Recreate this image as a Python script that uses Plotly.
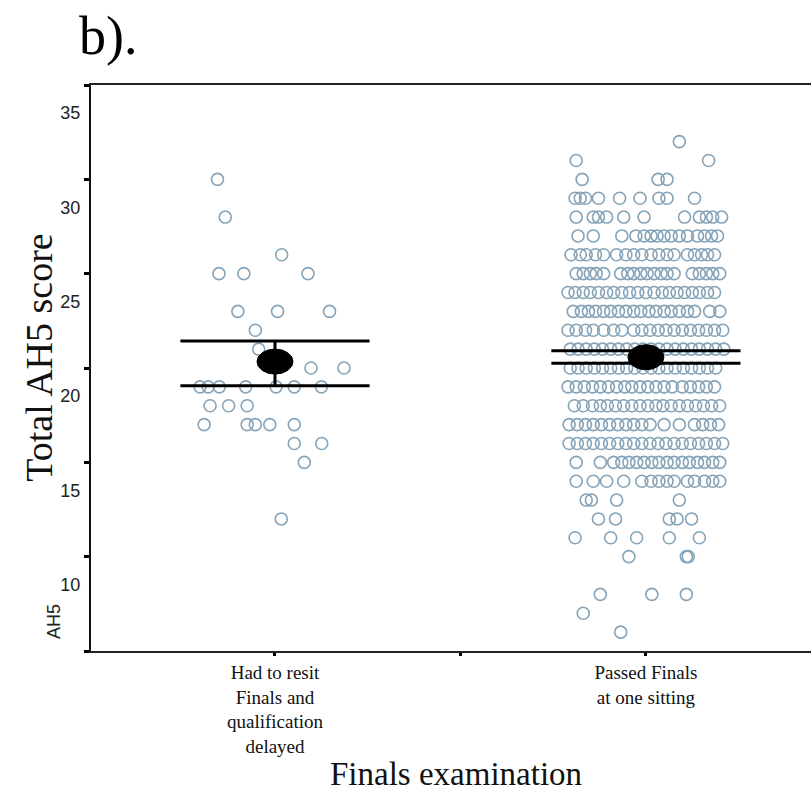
import plotly.graph_objects as go

# ---------------- data ----------------
categories = ["Had to resit<br>Finals and<br>qualification<br>delayed",
              "Passed Finals<br>at one sitting"]
category_pos = [1, 2]

# Group 1: had to resit (score, horizontal jitter offset in category units)
resit_scores = [30, 28, 26, 25, 25, 25, 23, 23, 23, 22, 21, 20, 20,
                19, 19, 19, 19, 19, 19, 19, 18, 18, 18,
                17, 17, 17, 17, 17, 16, 16, 15, 12]
resit_offsets = [-0.155, -0.134, 0.018, -0.151, -0.084, 0.089, -0.100, 0.007, 0.147,
                 -0.053, -0.044, 0.097, 0.186,
                 -0.202, -0.180, -0.150, -0.079, 0.003, 0.052, 0.125,
                 -0.175, -0.125, -0.075,
                 -0.191, -0.075, -0.053, -0.014, 0.052,
                 0.052, 0.126, 0.079, 0.017]

# Group 2: passed at one sitting, one list of jitter offsets per score row
passed_row_scores = [32, 31, 30, 29, 28, 27, 26, 25, 24, 23, 22, 21, 20,
                     19, 18, 17, 16, 15, 14, 13, 12, 11, 10, 8, 7, 6]
passed_row_offsets = [
    [0.090],
    [-0.188, 0.169],
    [-0.172, 0.033, 0.057],
    [-0.191, -0.177, -0.163, -0.128, -0.071, -0.016, 0.035, 0.057, 0.131],
    [-0.188, -0.142, -0.128, -0.106, -0.060, -0.005, 0.104, 0.144, 0.163, 0.180, 0.204],
    [-0.183, -0.142, -0.065, -0.027, -0.005, 0.014, 0.030, 0.049, 0.068, 0.090, 0.112,
     0.139, 0.158, 0.177, 0.193],
    [-0.202, -0.177, -0.161, -0.136, -0.114, -0.079, -0.054, -0.033, -0.011, 0.014, 0.035,
     0.057, 0.076, 0.112, 0.131, 0.150, 0.166, 0.185],
    [-0.188, -0.169, -0.150, -0.134, -0.114, -0.068, -0.049, -0.033, -0.014, 0.003, 0.022,
     0.041, 0.057, 0.076, 0.125, 0.144, 0.163, 0.180, 0.199],
    [-0.210, -0.191, -0.169, -0.150, -0.128, -0.106, -0.087, -0.065, -0.044, -0.022, 0.000,
     0.022, 0.044, 0.063, 0.084, 0.104, 0.125, 0.144, 0.166, 0.185],
    [-0.196, -0.174, -0.155, -0.136, -0.114, -0.095, -0.074, -0.054, -0.033, -0.014, 0.008,
     0.027, 0.049, 0.068, 0.090, 0.112, 0.131, 0.172, 0.199],
    [-0.210, -0.188, -0.163, -0.142, -0.114, -0.087, -0.065, -0.033, -0.011, 0.011, 0.033,
     0.054, 0.076, 0.098, 0.120, 0.142, 0.163, 0.185, 0.207],
    [-0.204, -0.183, -0.161, -0.139, -0.117, -0.095, -0.074, -0.052, -0.030, -0.008, 0.014,
     0.035, 0.057, 0.079, 0.101, 0.123, 0.144, 0.166, 0.188, 0.210],
    [-0.204, -0.183, -0.161, -0.139, -0.117, -0.095, -0.074, -0.052, -0.030, -0.008, 0.014,
     0.035, 0.057, 0.079, 0.101, 0.123, 0.144, 0.166, 0.188],
    [-0.210, -0.188, -0.166, -0.144, -0.123, -0.101, -0.079, -0.057, -0.038, -0.016, 0.005,
     0.027, 0.049, 0.071, 0.098, 0.120, 0.142, 0.163, 0.185],
    [-0.193, -0.169, -0.144, -0.123, -0.104, -0.082, -0.060, -0.038, -0.016, 0.005, 0.027,
     0.046, 0.068, 0.090, 0.112, 0.134, 0.155, 0.177, 0.199],
    [-0.207, -0.185, -0.163, -0.142, -0.120, -0.098, -0.076, -0.054, -0.033, -0.011, 0.011,
     0.049, 0.090, 0.131, 0.153, 0.174, 0.196],
    [-0.207, -0.185, -0.163, -0.142, -0.120, -0.098, -0.076, -0.054, -0.033, -0.011, 0.011,
     0.033, 0.054, 0.076, 0.098, 0.120, 0.142, 0.163, 0.185, 0.207],
    [-0.188, -0.123, -0.087, -0.065, -0.046, -0.025, -0.005, 0.016, 0.035, 0.057, 0.076,
     0.098, 0.117, 0.139, 0.158, 0.180, 0.199],
    [-0.188, -0.142, -0.106, -0.060, -0.011, 0.014, 0.035, 0.057, 0.076, 0.112, 0.131,
     0.158, 0.180, 0.199],
    [-0.161, -0.147, -0.079, 0.090],
    [-0.128, -0.082, 0.063, 0.084, 0.123],
    [-0.191, -0.095, -0.025, 0.063, 0.144],
    [-0.046, 0.109, 0.114],
    [-0.123, 0.016, 0.109],
    [-0.169],
    [-0.068],
]

# Group summaries (mean and 95% CI)
group_means = [20.34, 20.57]
ci_low = [19.06, 20.25]
ci_high = [21.43, 20.92]

y_tick_values = [5, 10, 15, 20, 25, 30, 35]
y_tick_text = ["", "10", "15", "20", "25", "30", "35"]

# ---------------- build ----------------
POINT_COLOR = "#86a3b8"
SERIF = "Liberation Serif, Times New Roman, serif"
SANS = "Liberation Sans, Arial, sans-serif"

x_resit = [category_pos[0] + o for o in resit_offsets]
x_passed, y_passed = [], []
for s, offs in zip(passed_row_scores, passed_row_offsets):
    for o in offs:
        x_passed.append(category_pos[1] + o)
        y_passed.append(s)

fig = go.Figure()
marker_style = dict(symbol="circle-open", size=12, color=POINT_COLOR,
                    line=dict(width=1.6, color=POINT_COLOR))
fig.add_trace(go.Scatter(x=x_resit, y=resit_scores, mode="markers",
                         marker=marker_style, showlegend=False, hoverinfo="y"))
fig.add_trace(go.Scatter(x=x_passed, y=y_passed, mode="markers",
                         marker=marker_style, showlegend=False, hoverinfo="y"))

HALF = 0.255
ex, ey = [], []
for c, lo, hi in zip(category_pos, ci_low, ci_high):
    ex += [c - HALF, c + HALF, None, c - HALF, c + HALF, None, c, c, None]
    ey += [hi, hi, None, lo, lo, None, hi, lo, None]
fig.add_trace(go.Scatter(x=ex, y=ey, mode="lines",
                         line=dict(color="black", width=3),
                         showlegend=False, hoverinfo="skip"))

shapes = []
for c, m in zip(category_pos, group_means):
    shapes.append(dict(type="circle", xref="x", yref="y",
                       xsizemode="pixel", ysizemode="pixel",
                       xanchor=c, yanchor=m,
                       x0=-18, x1=18, y0=-12.5, y1=12.5,
                       fillcolor="black", line=dict(color="black", width=1),
                       layer="above"))

annotations = [
    dict(text="b).", xref="paper", yref="paper", x=0, y=1,
         xanchor="left", yanchor="middle", xshift=-14, yshift=49,
         showarrow=False, font=dict(family=SERIF, size=54, color="black")),
    dict(text="Total AH5 score", xref="paper", yref="paper", x=0, y=0.518,
         xanchor="center", yanchor="middle", xshift=-52, textangle=-90,
         showarrow=False, font=dict(family=SERIF, size=38, color="#111")),
    dict(text="AH5", xref="paper", yref="y", x=0, y=5,
         xanchor="center", yanchor="middle", xshift=-37, yshift=29, textangle=-90,
         showarrow=False, font=dict(family=SANS, size=18, color="#222")),
    dict(text="Finals examination", xref="x", yref="paper", x=1.5, y=0,
         xanchor="center", yanchor="bottom", yshift=-143, xshift=-4,
         showarrow=False, font=dict(family=SERIF, size=33, color="#111")),
]

fig.update_layout(
    width=811, height=793,
    margin=dict(l=91, r=0, t=85, b=142, pad=0),
    paper_bgcolor="white", plot_bgcolor="white",
    shapes=shapes, annotations=annotations,
    xaxis=dict(range=[0.504, 2.445], tickmode="array",
               tickvals=[category_pos[0], 1.5, category_pos[1]],
               ticktext=[categories[0], "", categories[1]],
               ticks="outside", ticklen=3, tickwidth=3, tickcolor="black",
               showline=True, linecolor="#222", linewidth=2, mirror=True,
               showgrid=False, zeroline=False,
               tickfont=dict(family=SERIF, size=19, color="#111")),
    yaxis=dict(range=[5, 35], tickmode="array",
               tickvals=y_tick_values, ticktext=y_tick_text,
               ticks="outside", ticklen=5, tickwidth=3, tickcolor="black",
               showline=True, linecolor="#111", linewidth=2,
               showgrid=False, zeroline=False,
               ticklabelshift=28,
               tickfont=dict(family=SANS, size=18, color="#222")),
)

fig.write_html("out.html")
